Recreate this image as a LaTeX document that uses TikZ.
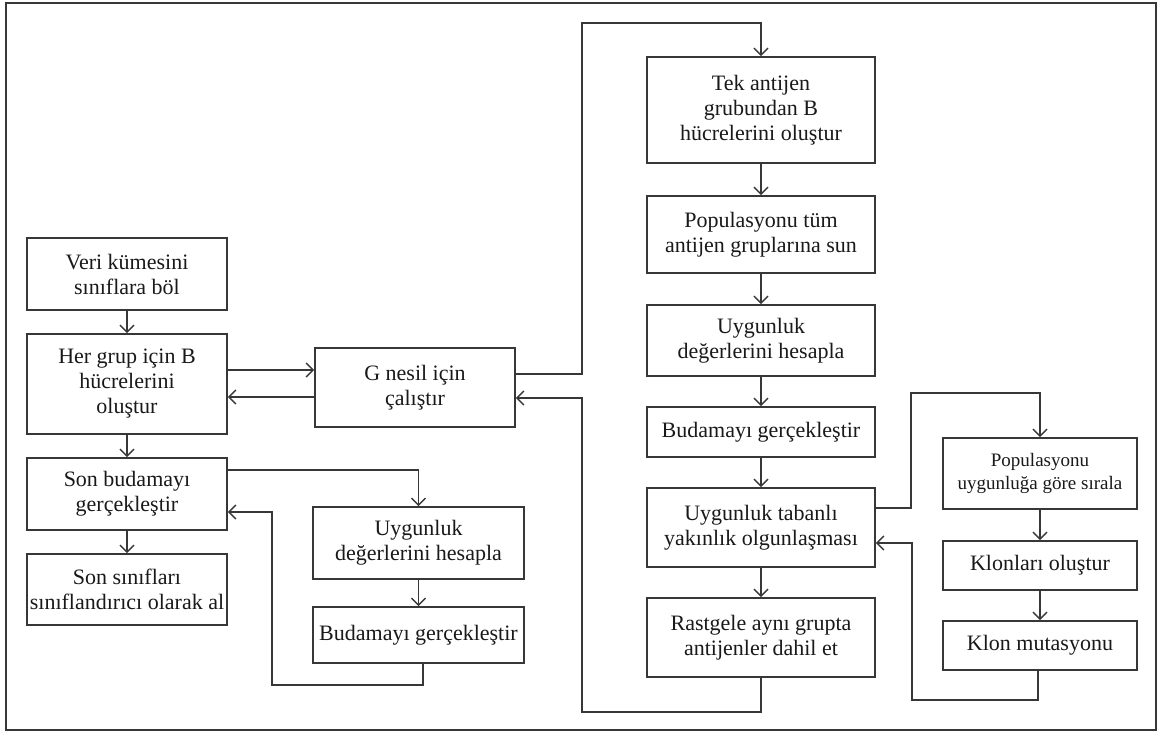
\documentclass[tikz,border=0pt]{standalone}
\usepackage{fontspec}
\setmainfont{Liberation Serif}
\usetikzlibrary{arrows.meta}

\definecolor{inkgrey}{RGB}{55,55,55}

\tikzset{
  box/.style={draw=inkgrey, line width=1.6pt, fill=white, inner sep=0pt,
              align=center, text=black!90,
              font=\fontsize{22}{25}\selectfont},
  smallbox/.style={box, font=\fontsize{19}{23}\selectfont},
  arr/.style={draw=inkgrey, line width=1.5pt,
              -{Straight Barb[length=7pt,width=14pt,line width=1.5pt]}},
  line/.style={draw=inkgrey, line width=1.5pt},
}

\begin{document}
\begin{tikzpicture}[x=1pt,y=-1pt]
  \useasboundingbox (0,0) rectangle (1162,735);
  % outer frame
  \draw[draw=inkgrey, line width=1.8pt] (6,3) rectangle (1156,730);

  % left column
  \node[box, minimum width=200pt, minimum height=72pt]  (veri)   at (127,274)   {Veri kümesini\\sınıflara böl};
  \node[box, minimum width=200pt, minimum height=100pt] (her)    at (127,384)   {Her grup için B\\hücrelerini\\oluştur};
  \node[box, minimum width=200pt, minimum height=72pt]  (sonbud) at (127,494)   {Son budamayı\\gerçekleştir};
  \node[box, minimum width=200pt, minimum height=71pt]  (sonsin) at (127,589.5) {Son sınıfları\\sınıflandırıcı olarak al};

  % generation loop and inner pruning branch
  \node[box, minimum width=200pt, minimum height=79pt]  (gen)    at (415,387.5) {G nesil için\\çalıştır};
  \node[box, minimum width=211pt, minimum height=72pt]  (uyga)   at (418.5,543) {Uygunluk\\değerlerini hesapla};
  \node[box, minimum width=211pt, minimum height=56pt]  (buda)   at (418.5,635) {Budamayı gerçekleştir};

  % middle column
  \node[box, minimum width=228pt, minimum height=106pt] (tek)    at (761,110)   {Tek antijen\\grubundan B\\hücrelerini oluştur};
  \node[box, minimum width=228pt, minimum height=77pt]  (pop)    at (761,234.5) {Populasyonu tüm\\antijen gruplarına sun};
  \node[box, minimum width=228pt, minimum height=71pt]  (uygb)   at (761,340.5) {Uygunluk\\değerlerini hesapla};
  \node[box, minimum width=228pt, minimum height=50pt]  (budb)   at (761,432)   {Budamayı gerçekleştir};
  \node[box, minimum width=228pt, minimum height=79pt]  (taban)  at (761,527.5) {Uygunluk tabanlı\\yakınlık olgunlaşması};
  \node[box, minimum width=228pt, minimum height=79pt]  (rast)   at (761,637.5) {Rastgele aynı grupta\\antijenler dahil et};

  % right column
  \node[smallbox, minimum width=194pt, minimum height=71pt] (sira)  at (1040,473.5) {Populasyonu\\uygunluğa göre sırala};
  \node[box, minimum width=194pt, minimum height=49pt]      (klon)  at (1040,565.5) {Klonları oluştur};
  \node[box, minimum width=194pt, minimum height=49pt]      (mut)   at (1040,645.5) {Klon mutasyonu};

  % routing points
  \coordinate (hgA)  at (0,370);
  \coordinate (hgB)  at (0,397);
  \coordinate (sbA)  at (0,470);
  \coordinate (sbB)  at (0,512);
  \coordinate (lpB)  at (272,685);
  \coordinate (bdx)  at (423,0);
  \coordinate (gout) at (0,374);
  \coordinate (gin)  at (0,398);
  \coordinate (upL)  at (582,23);
  \coordinate (dnL)  at (582,712);
  \coordinate (tbA)  at (0,508);
  \coordinate (tbB)  at (0,543);
  \coordinate (rtU)  at (911,393);
  \coordinate (rtD)  at (912,700);
  \coordinate (mtx)  at (1038,0);

  % left column flow
  \draw[arr] (veri) -- (her);
  \draw[arr] (her) -- (sonbud);
  \draw[arr] (sonbud) -- (sonsin);
  \draw[arr] (her.east |- hgA) -- (gen.west |- hgA);
  \draw[arr] (gen.west |- hgB) -- (her.east |- hgB);

  % final pruning branch
  \draw[arr] (sonbud.east |- sbA) -| (uyga.north);
  \draw[arr] (uyga) -- (buda);
  \draw[arr] (buda.south -| bdx) |- (lpB) |- (sonbud.east |- sbB);

  % generation loop
  \draw[arr] (gen.east |- gout) -| (upL) -| (tek.north);
  \draw[arr] (tek) -- (pop);
  \draw[arr] (pop) -- (uygb);
  \draw[arr] (uygb) -- (budb);
  \draw[arr] (budb) -- (taban);
  \draw[arr] (taban) -- (rast);
  \draw[arr] (rast.south) |- (dnL) |- (gen.east |- gin);

  % affinity maturation loop
  \draw[arr] (taban.east |- tbA) -| (rtU) -| (sira.north);
  \draw[arr] (sira) -- (klon);
  \draw[arr] (klon) -- (mut);
  \draw[arr] (mut.south -| mtx) |- (rtD) |- (taban.east |- tbB);
\end{tikzpicture}
\end{document}
